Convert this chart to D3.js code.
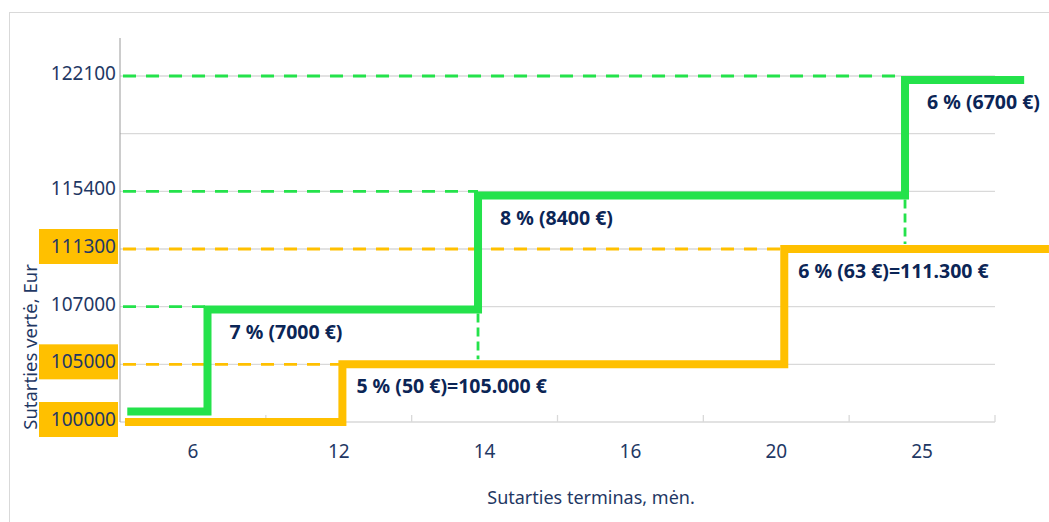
<!DOCTYPE html>
<html>
<head>
<meta charset="utf-8">
<script src="https://cdn.jsdelivr.net/npm/d3@7"></script>
<style>
  body { margin: 0; background: #fff; }
  text { font-family: "Noto Sans", sans-serif; }
</style>
</head>
<body>
<div id="container"></div>
<script>
// x categories (contract term, months)
let categories = ["6", "12", "14", "16", "20", "25"];

// y axis labels, one per grid level (level 5 has no label)
let yTickLabels = ["100000", "105000", "107000", "111300", "115400", "", "122100"];
let yTickValues = [100000, 105000, 107000, 111300, 115400, 122100];
let yTickLevels = [0, 1, 2, 3, 4, 6];
let highlighted = ["100000", "105000", "111300"];

// green series: step x positions (in category units) and levels
let greenX = [0.05, 0.6, 2.455, 5.383, 6.2];
let greenY = [100900, 106900, 115100, 121870];
let greenMarks = [107000, 115400, 122100];
let greenLabels = ["7 % (7000 €)", "8 % (8400 €)", "6 % (6700 €)"];

// orange series
let orangeX = [0.034, 1.525, 4.555, 6.37];
let orangeY = [100000, 105000, 111300];
let orangeMarks = [105000, 111300];
let orangeLabels = ["5 % (50 €)=105.000 €", "6 % (63 €)=111.300 €"];

let svgWidth = 1049, svgHeight = 522;
let green = "#24e24b", orange = "#ffc000";
let navy = "#1f3864", darkNavy = "#0b2556";

let viz = d3.select("#container")
  .append("svg")
    .attr("width", svgWidth)
    .attr("height", svgHeight);

// outer frame
viz.append("rect")
  .attr("x", 9.5).attr("y", 12.5)
  .attr("width", 1100).attr("height", 600)
  .attr("fill", "none").attr("stroke", "#d9d9d9");

let x = d3.scaleLinear().domain([0, categories.length]).range([120, 995]);
let level = d3.scaleLinear().domain(yTickValues).range(yTickLevels);
let yLevel = d3.scaleLinear().domain([0, 6]).range([422, 76]);
let y = v => yLevel(level(v));

// gridlines
viz.append("g").selectAll("line")
  .data(d3.range(yTickLabels.length))
  .join("line")
    .attr("x1", 120).attr("x2", 995)
    .attr("y1", d => yLevel(d)).attr("y2", d => yLevel(d))
    .attr("stroke", "#d9d9d9").attr("stroke-width", 1.3);

// x ticks (pointing up)
viz.append("g").selectAll("line")
  .data(d3.range(1, categories.length + 1))
  .join("line")
    .attr("x1", d => x(d)).attr("x2", d => x(d))
    .attr("y1", 415).attr("y2", 422)
    .attr("stroke", "#d9d9d9").attr("stroke-width", 1.3);

// y axis line
viz.append("line")
  .attr("x1", 120).attr("x2", 120)
  .attr("y1", 38).attr("y2", 422)
  .attr("stroke", "#9a9a9a").attr("stroke-width", 1);

// y tick labels with orange highlight boxes
let yLab = viz.append("g").selectAll("g")
  .data(yTickLabels.map((t, i) => ({t: t, i: i})).filter(d => d.t !== ""))
  .join("g")
    .attr("transform", d => `translate(116,${yLevel(d.i) - 3})`);

yLab.filter(d => highlighted.includes(d.t))
  .append("rect")
    .attr("x", -77).attr("y", -17)
    .attr("width", 79).attr("height", 35)
    .attr("fill", orange);

yLab.append("text")
  .attr("text-anchor", "end")
  .attr("dy", "0.36em")
  .attr("font-size", 19)
  .attr("fill", navy)
  .text(d => d.t);

// x tick labels
viz.append("g").selectAll("text")
  .data(categories)
  .join("text")
    .attr("x", (d, i) => x(i + 0.5))
    .attr("y", 451)
    .attr("dy", "0.36em")
    .attr("text-anchor", "middle")
    .attr("font-size", 19)
    .attr("fill", navy)
    .text(d => d);

// axis titles
viz.append("text")
  .attr("x", 591).attr("y", 498)
  .attr("dy", "0.36em")
  .attr("text-anchor", "middle")
  .attr("font-size", 18)
  .attr("fill", navy)
  .text("Sutarties terminas, mėn.");

viz.append("text")
  .attr("transform", "translate(30,347) rotate(-90)")
  .attr("dy", "0.36em")
  .attr("text-anchor", "middle")
  .attr("font-size", 18.5)
  .attr("fill", navy)
  .text("Sutarties vertė, Eur");

// dashed guides from the axis to each step
function guides(marks, xs, color) {
  viz.append("g").selectAll("line")
    .data(marks)
    .join("line")
      .attr("x1", 123).attr("x2", (d, i) => x(xs[i + 1]))
      .attr("y1", d => y(d)).attr("y2", d => y(d))
      .attr("stroke", color).attr("stroke-width", 2.8)
      .attr("stroke-dasharray", "13,10");
}
guides(greenMarks, greenX, green);
guides(orangeMarks, orangeX, orange);

// vertical green dashes down to the orange line
viz.append("g").selectAll("line")
  .data([[2, 1], [3, 2]])
  .join("line")
    .attr("x1", d => x(greenX[d[0]])).attr("x2", d => x(greenX[d[0]]))
    .attr("y1", d => y(greenY[d[0] - 1]) + 4)
    .attr("y2", d => y(orangeY[d[1]]) - 5)
    .attr("stroke", green).attr("stroke-width", 2.8)
    .attr("stroke-dasharray", "9,5");

// step lines
let line = d3.line().curve(d3.curveStepAfter);
function stepPoints(xs, ys) {
  let pts = ys.map((v, i) => [x(xs[i]), y(v)]);
  pts.push([x(xs[xs.length - 1]), y(ys[ys.length - 1])]);
  return pts;
}

viz.append("path")
  .attr("d", line(stepPoints(orangeX, orangeY)))
  .attr("fill", "none").attr("stroke", orange)
  .attr("stroke-width", 8).attr("stroke-linejoin", "miter");

viz.append("path")
  .attr("d", line(stepPoints(greenX, greenY)))
  .attr("fill", "none").attr("stroke", green)
  .attr("stroke-width", 8).attr("stroke-linejoin", "miter");

// step annotations
function notes(labels, xs, ys, dx) {
  viz.append("g").selectAll("text")
    .data(labels)
    .join("text")
      .attr("x", (d, i) => x(xs[i + 1]) + dx)
      .attr("y", (d, i) => y(ys[i + 1]) + 29)
      .attr("font-size", 19.5)
      .attr("font-weight", "bold")
      .attr("fill", darkNavy)
      .text(d => d);
}
notes(greenLabels, greenX, greenY, 22);
notes(orangeLabels, orangeX, orangeY, 14);
</script>
</body>
</html>
